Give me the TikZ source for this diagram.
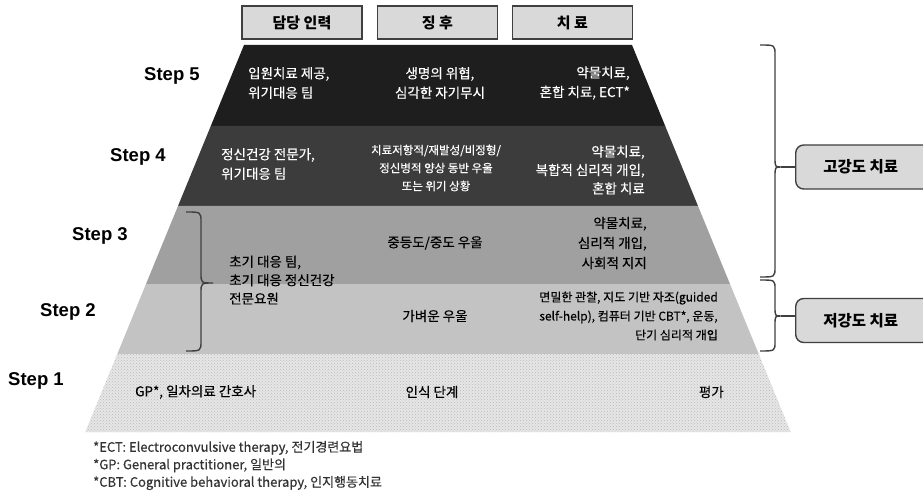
\documentclass[tikz,border=0pt]{standalone}
\usepackage{fontspec}
\setmainfont{Noto Sans CJK KR}
\newfontfamily\krmid{Noto Sans CJK KR}[FakeBold=0.35]
\newfontfamily\stepfont{Liberation Sans}
\usetikzlibrary{patterns}
\definecolor{boxline}{HTML}{404040}
\definecolor{boxfill}{HTML}{D9D9D9}
\definecolor{lfive}{HTML}{1E1E1E}
\definecolor{lfour}{HTML}{3C3C3C}
\definecolor{lthree}{HTML}{A0A0A0}
\definecolor{ltwo}{HTML}{C3C3C3}
\definecolor{lone}{HTML}{E6E6E6}
\definecolor{notec}{HTML}{333333}
\tikzset{
  hdr/.style={draw=boxline, fill=boxfill, line width=1.4pt, minimum width=120pt, minimum height=33pt, inner sep=0pt, font=\rmfamily\bfseries\fontsize{15}{18}\selectfont},
  steplab/.style={inner sep=0pt, font=\stepfont\bfseries\fontsize{18.5}{20}\selectfont},
  wtxt/.style={text=white, inner sep=0pt},
  btxt/.style={text=black, inner sep=0pt},
  sidebox/.style={draw=boxline, fill=boxfill, line width=1.4pt, rounded corners=8pt, minimum width=140pt, minimum height=44pt, anchor=west, font=\rmfamily\bfseries\fontsize{15.5}{18}\selectfont},
  bracepath/.style={draw=boxline, line width=1.4pt},
  note/.style={text=notec, inner sep=0pt, anchor=west, align=left, font=\krmid\fontsize{13}{17.5}\selectfont}
}
\begin{document}
\begin{tikzpicture}[x=1pt,y=-1pt, font=\krmid\fontsize{13.5}{19.5}\selectfont]
\clip (0,0) rectangle (923,494);
\fill[white] (0,0) rectangle (923,494);
% pyramid layers
\fill[lfive] (244,45) -- (632,45) -- (665.2,126) -- (210.8,126) -- cycle;
\fill[lfour] (210.8,126) -- (665.2,126) -- (698,206) -- (178,206) -- cycle;
\fill[lthree] (178,206) -- (698,206) -- (730,284) -- (146,284) -- cycle;
\fill[ltwo] (146,284) -- (730,284) -- (758.7,354) -- (117.3,354) -- cycle;
\fill[lone] (117.3,354) -- (758.7,354) -- (790.7,432) -- (85.3,432) -- cycle;
\fill[pattern=crosshatch dots, pattern color=gray!55] (117.3,354) -- (758.7,354) -- (790.7,432) -- (85.3,432) -- cycle;
% headers
\node[hdr] (h1) at (302,22.5) {담당 인력};
\node[hdr] (h2) at (437.5,22.5) {징 후};
\node[hdr] (h3) at (572.5,22.5) {치 료};
% step labels
\node[steplab] (s5) at (172,76) {Step 5};
\node[steplab] (s4) at (138,157) {Step 4};
\node[steplab] (s3) at (100,236) {Step 3};
\node[steplab] (s2) at (68,312) {Step 2};
\node[steplab] (s1) at (36,381) {Step 1};
% step 5
\node[wtxt, anchor=west, align=left] (t5a) at (248,83) {입원치료 제공,\\위기대응 팀};
\node[wtxt, align=center] (t5b) at (440,83) {생명의 위협,\\심각한 자기무시};
\node[wtxt, anchor=east, align=right] (t5c) at (630,83) {약물치료,\\혼합 치료, ECT*};
% step 4
\node[wtxt, anchor=west, align=left] (t4a) at (221,164) {정신건강 전문가,\\위기대응 팀};
\node[wtxt, align=center, font=\krmid\fontsize{11.5}{18}\selectfont] (t4b) at (436,168) {치료저항적/재발성/비정형/\\정신병적 양상 동반 우울\\또는 위기 상황};
\node[wtxt, anchor=east, align=right, font=\krmid\fontsize{13.5}{18.5}\selectfont] (t4c) at (645,170) {약물치료,\\복합적 심리적 개입,\\혼합 치료};
% step 3
\node[btxt, align=center] (t3b) at (435,243) {중등도/중도 우울};
\node[btxt, anchor=east, align=right, font=\krmid\fontsize{13.5}{20}\selectfont] (t3c) at (647,243) {약물치료,\\심리적 개입,\\사회적 지지};
% steps 2-3 shared
\node[btxt, anchor=west, align=left, font=\krmid\fontsize{13.5}{18.5}\selectfont] (t23a) at (229,280) {초기 대응 팀,\\초기 대응 정신건강\\전문요원};
% step 2
\node[btxt, align=center] (t2b) at (435,316) {가벼운 우울};
\node[btxt, anchor=east, align=right, font=\krmid\fontsize{12}{19}\selectfont] (t2c) at (718,316) {면밀한 관찰, 지도 기반 자조(guided\\self-help), 컴퓨터 기반 CBT*, 운동,\\단기 심리적 개입};
% step 1
\node[btxt, anchor=west] (t1a) at (135,392) {GP*, 일차의료 간호사};
\node[btxt] (t1b) at (432,392) {인식 단계};
\node[btxt, anchor=east] (t1c) at (724,392) {평가};
% left brace
\coordinate (lbtip) at (213,283);
\draw[bracepath] (186,212) .. controls (201,212) .. (201,222) -- (201,273) .. controls (201,283) .. (lbtip) .. controls (201,283) .. (201,293) -- (201,341) .. controls (201,351) .. (186,351);
% right braces and boxes
\node[sidebox] (hi) at (795,167) {\hspace*{-10pt}고강도 치료};
\node[sidebox] (lo) at (795,320.5) {\hspace*{-10pt}저강도 치료};
\coordinate (rb1tip) at (781,167);
\coordinate (rb2tip) at (781,316);
\draw[bracepath] (760,45) .. controls (775,45) .. (775,55) -- (775,157) .. controls (775,167) .. (rb1tip) .. controls (775,167) .. (775,177) -- (775,267) .. controls (775,277) .. (760,277);
\draw[bracepath] (760,280) .. controls (775,280) .. (775,289) -- (775,307) .. controls (775,316) .. (rb2tip) .. controls (775,316) .. (775,325) -- (775,342) .. controls (775,351) .. (760,351);
\draw[bracepath] (rb1tip) -- (hi.west);
\draw[bracepath] (rb2tip) -- (lo.west |- rb2tip);
% footnotes
\node[note] (fn) at (93,465.5) {*ECT: Electroconvulsive therapy, 전기경련요법\\*GP: General practitioner, 일반의\\*CBT: Cognitive behavioral therapy, 인지행동치료};
\end{tikzpicture}
\end{document}
